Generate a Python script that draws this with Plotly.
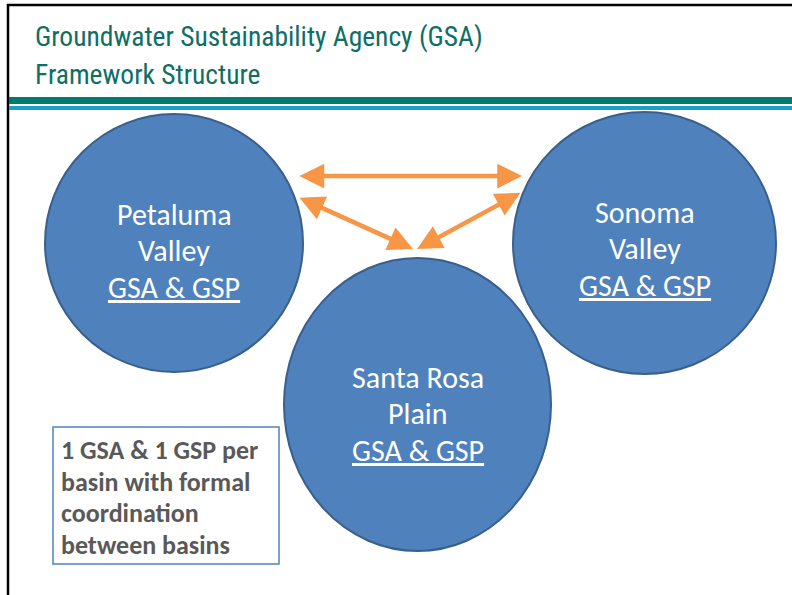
import plotly.graph_objects as go

# ---- content ----
title_lines = ["Groundwater Sustainability Agency (GSA)", "Framework Structure"]
basin_names = [["Petaluma", "Valley"], ["Sonoma", "Valley"], ["Santa Rosa", "Plain"]]
basin_sub = ["GSA & GSP", "GSA & GSP", "GSA & GSP"]
note_lines = ["1 GSA & 1 GSP per", "basin with formal", "coordination", "between basins"]

# ---- layout geometry (pixel coordinates, y downward) ----
W, H = 792, 595
circles = [  # x0, y0, x1, y1
    (45, 114, 303, 372),
    (513, 112, 776, 374),
    (284, 258, 551, 551),
]
text_y = [  # centres of the three text lines in each circle
    (214, 250, 287),
    (212, 248, 285),
    (377, 413, 450),
]
arrows = [  # (head x, head y, tail x, tail y) both ends have heads
    (522, 176, 298, 176),
    (413, 249, 298, 197),
    (417, 249, 522, 192),
]

fig = go.Figure()
shapes = []
ann = []

# page border (top & left)
shapes.append(dict(type="line", x0=7, y0=5, x1=W, y1=5, line=dict(color="black", width=2.5)))
shapes.append(dict(type="line", x0=8, y0=4, x1=8, y1=H, line=dict(color="black", width=2.5)))
# header bands
shapes.append(dict(type="rect", x0=9, y0=97, x1=W, y1=104, line=dict(width=0), fillcolor="#007A6E"))
shapes.append(dict(type="rect", x0=9, y0=106, x1=W, y1=110, line=dict(width=0), fillcolor="#19A2C0"))

# title
title_font = dict(family="Roboto Condensed, sans-serif", size=27.5, weight=400, color="#0F6E66")
for i, t in enumerate(title_lines):
    ann.append(dict(x=33, y=36 + 38 * i, text=t, showarrow=False, xanchor="left", yanchor="middle",
                    font=title_font))

# circles
for (x0, y0, x1, y1), names, sub, ys in zip(circles, basin_names, basin_sub, text_y):
    shapes.append(dict(type="circle", x0=x0, y0=y0, x1=x1, y1=y1, fillcolor="#4F81BD",
                       line=dict(color="#3A5F8B", width=2)))
    cx = (x0 + x1) / 2
    cfont = dict(family="Carlito, Lato, sans-serif", size=30, color="white")
    for t, yy in zip(names + ["<u>" + sub.replace("&", "&amp;") + "</u>"], ys):
        ann.append(dict(x=cx, y=yy, text=t, showarrow=False, xanchor="center", yanchor="middle",
                        font=cfont))

# arrows
for hx, hy, tx, ty in arrows:
    ann.append(dict(x=hx, y=hy, ax=tx, ay=ty, xref="x", yref="y", axref="x", ayref="y",
                    text="", showarrow=True, arrowside="end+start", arrowhead=2, startarrowhead=2,
                    arrowsize=1.1, startarrowsize=1.1, arrowwidth=4.5, arrowcolor="#F79646",
                    standoff=0, startstandoff=0))

# note box
shapes.append(dict(type="rect", x0=53, y0=427, x1=279, y1=564, fillcolor="white",
                   line=dict(color="#4F81BD", width=1.5)))
nfont = dict(family="Carlito, Lato, sans-serif", size=26, color="#595959")
for i, t in enumerate(note_lines):
    ann.append(dict(x=59, y=450 + 31.7 * i, text="<b>" + t.replace("&", "&amp;") + "</b>",
                    showarrow=False, xanchor="left", yanchor="middle", font=nfont))

fig.update_layout(
    width=W, height=H, margin=dict(l=0, r=0, t=0, b=0),
    paper_bgcolor="white", plot_bgcolor="white",
    xaxis=dict(range=[0, W], visible=False, fixedrange=True),
    yaxis=dict(range=[H, 0], visible=False, fixedrange=True),
    shapes=shapes, annotations=ann, showlegend=False,
)
fig.write_html("out.html", config={"displayModeBar": False},
               post_script="document.body.style.margin='0px';")
